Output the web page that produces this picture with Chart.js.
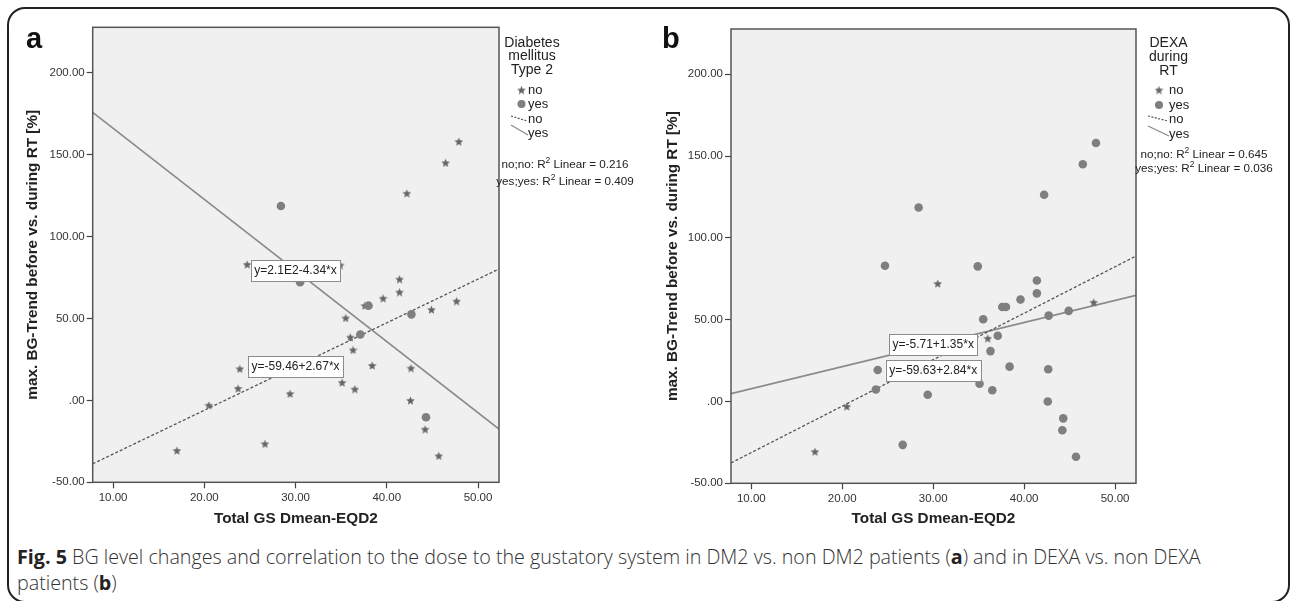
<!DOCTYPE html>
<html>
<head>
<meta charset="utf-8">
<script src="https://cdn.jsdelivr.net/npm/chart.js@4.4.1/dist/chart.umd.min.js"></script>
<style>
    html, body { margin: 0; padding: 0; background: #fff; }
    #page { position: relative; width: 1290px; height: 601px; overflow: hidden; font-family: Arial, "Liberation Sans", sans-serif; }
    #frame { position: absolute; left: 7px; top: 7px; width: 1283px; height: 596px; box-sizing: border-box; border: 2px solid #222; border-radius: 18px; }
    canvas { position: absolute; top: 0; }
    .tag { position: absolute; top: 24px; font: bold 29px Arial, "Liberation Sans", sans-serif; line-height: 29px; color: #111; }
    #caption { position: absolute; left: 17px; top: 544px; width: 1265px; font-family: "Open Sans", sans-serif; font-weight: 300; font-size: 19.7px; line-height: 26px; color: #333; white-space: nowrap; }
    #caption b { color: #222; font-weight: 700; }
</style>
</head>
<body>
<div id="page">
    <div id="frame"></div>
    <canvas id="chartA" width="640" height="540" style="left:0"></canvas>
    <canvas id="chartB" width="650" height="540" style="left:640px"></canvas>
    <div class="tag" style="left:26px">a</div>
    <div class="tag" style="left:662px">b</div>
    <div id="caption"><b>Fig. 5</b> BG level changes and correlation to the dose to the gustatory system in DM2 vs. non DM2 patients (<b>a</b>) and in DEXA vs. non DEXA<br>patients (<b>b</b>)</div>
</div>
<script>
// Patients: total GS Dmean-EQD2 vs. max. BG trend
const doseGS = [17.0, 20.5, 23.7, 23.9, 24.7, 26.65, 28.4, 29.4, 30.5, 34.9, 35.1, 35.5, 36.0, 36.3, 36.5, 37.1, 37.6,
                38.0, 38.4, 39.6, 41.4, 41.4, 42.2, 42.6, 42.65, 42.7, 44.2, 44.3, 44.9, 45.7, 46.45, 47.65, 47.9];
const bgTrend = [-30.6, -3.0, 7.3, 19.3, 83.0, -26.5, 118.6, 4.1, 72.1, 82.6, 10.9, 50.3, 38.6, 30.8, 6.9, 40.2, 57.8,
                 57.8, 21.3, 62.3, 74.0, 66.1, 126.4, 0.0, 19.7, 52.5, -17.6, -10.3, 55.4, -33.8, 145.0, 60.6, 158.0];
const dm2 = ['no', 'no', 'no', 'no', 'no', 'no', 'yes', 'no', 'yes', 'no', 'no', 'no', 'no', 'no', 'no', 'yes', 'no',
             'yes', 'no', 'no', 'no', 'no', 'no', 'no', 'no', 'yes', 'no', 'yes', 'no', 'no', 'no', 'no', 'no'];
const dexa = ['no', 'no', 'yes', 'yes', 'yes', 'yes', 'yes', 'yes', 'no', 'yes', 'yes', 'yes', 'no', 'yes', 'yes', 'yes', 'yes',
              'yes', 'yes', 'yes', 'yes', 'yes', 'yes', 'yes', 'yes', 'yes', 'yes', 'yes', 'yes', 'yes', 'yes', 'no', 'yes'];
const groups = ['no', 'yes'];

// Linear fits per group (no, yes)
const dm2Intercept = [-59.46, 209.5];
const dm2Slope = [2.67, -4.34];
const dm2Equation = ['y=-59.46+2.67*x', 'y=2.1E2-4.34*x'];
const dm2R2 = ['0.216', '0.409'];
const dexaIntercept = [-59.63, -5.71];
const dexaSlope = [2.84, 1.35];
const dexaEquation = ['y=-59.63+2.84*x', 'y=-5.71+1.35*x'];
const dexaR2 = ['0.645', '0.036'];

const xTicks = [10, 20, 30, 40, 50];
const yTicks = [-50, 0, 50, 100, 150, 200];
const xRange = [7.77, 52.3];
const yRange = [-50, 227.7];

// Five-pointed star marker, like SPSS uses
function makeStar(size, color) {
    const c = document.createElement('canvas');
    c.width = c.height = size;
    const g = c.getContext('2d');
    g.fillStyle = color;
    g.beginPath();
    const R = size / 2, r = R * 0.45;
    for (let i = 0; i < 10; i++) {
        const a = -Math.PI / 2 + i * Math.PI / 5;
        const rad = i % 2 ? r : R;
        g.lineTo(R + rad * Math.cos(a), R + 0.5 + rad * Math.sin(a));
    }
    g.closePath();
    g.fill();
    return c;
}
const starImg = makeStar(9, '#666');
const DOT_COLOR = '#7f7f7f';
const SOLID_COLOR = '#8a8a8a';
const DASH_COLOR = '#555';

// Plot background and frame
const plotFrame = {
    id: 'plotFrame',
    beforeDatasetsDraw(chart) {
        const { ctx, chartArea: a } = chart;
        ctx.save();
        ctx.fillStyle = '#f0f0f0';
        ctx.fillRect(a.left, a.top, a.right - a.left, a.bottom - a.top);
        ctx.restore();
    },
    afterDraw(chart) {
        const { ctx, chartArea: a } = chart;
        ctx.save();
        ctx.strokeStyle = '#555';
        ctx.lineWidth = 1.5;
        ctx.strokeRect(a.left, a.top, a.right - a.left, a.bottom - a.top);
        ctx.restore();
    }
};

// White equation boxes placed on each fit line at x = 30
const equationBoxes = {
    id: 'equationBoxes',
    afterDatasetsDraw(chart, args, o) {
        const { ctx, scales: { x, y } } = chart;
        ctx.save();
        ctx.font = '12px Arial';
        ctx.textAlign = 'center';
        ctx.textBaseline = 'middle';
        o.items.forEach(it => {
            const px = x.getPixelForValue(o.at);
            const py = y.getPixelForValue(it.a + it.b * o.at) + (it.dy || 0);
            const w = ctx.measureText(it.text).width + 7;
            const h = 21;
            ctx.fillStyle = '#fff';
            ctx.fillRect(px - w / 2, py - h / 2, w, h);
            ctx.strokeStyle = '#8c8c8c';
            ctx.lineWidth = 1;
            ctx.strokeRect(Math.round(px - w / 2) + 0.5, Math.round(py - h / 2) + 0.5, Math.round(w), h);
            ctx.fillStyle = '#222';
            ctx.fillText(it.text, px, py + 0.5);
        });
        ctx.restore();
    }
};

// Legend at the right of each plot: group title, markers, fit lines, R2
const groupLegend = {
    id: 'groupLegend',
    afterDraw(chart, args, o) {
        const ctx = chart.ctx;
        ctx.save();
        ctx.fillStyle = '#222';
        ctx.textBaseline = 'middle';
        ctx.font = '14px Arial';
        ctx.textAlign = 'center';
        o.title.forEach((t, i) => ctx.fillText(t, o.cx, o.titleY[i]));

        ctx.textAlign = 'left';
        ctx.font = '13px Arial';
        ctx.drawImage(starImg, o.symX - 4.5, o.rowY[0] - 4.5);
        ctx.fillText(groups[0], o.textX, o.rowY[0]);
        ctx.fillStyle = DOT_COLOR;
        ctx.beginPath();
        ctx.arc(o.symX, o.rowY[1], 4, 0, Math.PI * 2);
        ctx.fill();
        ctx.fillStyle = '#222';
        ctx.fillText(groups[1], o.textX, o.rowY[1]);

        ctx.strokeStyle = DASH_COLOR;
        ctx.lineWidth = 1.2;
        ctx.setLineDash([2, 1.5]);
        ctx.beginPath();
        ctx.moveTo(o.lineX0, o.rowY[2] - 3);
        ctx.lineTo(o.textX - 1, o.rowY[2] + 2);
        ctx.stroke();
        ctx.setLineDash([]);
        ctx.fillText(groups[0], o.textX, o.rowY[2]);
        ctx.strokeStyle = SOLID_COLOR;
        ctx.lineWidth = 1.3;
        ctx.beginPath();
        ctx.moveTo(o.lineX0, o.rowY[3] - 8);
        ctx.lineTo(o.textX, o.rowY[3] + 2);
        ctx.stroke();
        ctx.fillText(groups[1], o.textX, o.rowY[3]);

        // R2 lines with a raised 2
        o.r2.forEach((val, i) => {
            const pre = groups[i] + ';' + groups[i] + ': R';
            const post = ' Linear = ' + val;
            ctx.font = '11.7px Arial';
            const w1 = ctx.measureText(pre).width, w3 = ctx.measureText(post).width;
            ctx.font = '8.5px Arial';
            const w2 = ctx.measureText('2').width;
            let xs = o.r2X - (w1 + w2 + w3) / 2;
            const yy = o.r2Y[i];
            ctx.font = '11.7px Arial';
            ctx.fillText(pre, xs, yy);
            ctx.font = '8.5px Arial';
            ctx.fillText('2', xs + w1, yy - 4);
            ctx.font = '11.7px Arial';
            ctx.fillText(post, xs + w1 + w2, yy);
        });
        ctx.restore();
    }
};

function fitLine(a, b) {
    return [{ x: xRange[0], y: a + b * xRange[0] }, { x: xRange[1], y: a + b * xRange[1] }];
}

function buildPanel(id, grouping, intercept, slope, equation, r2, boxShift, legend, layout) {
    const pts = g => doseGS.map((x, i) => ({ x: x, y: bgTrend[i] })).filter((p, i) => grouping[i] === g);
    const config = {
        type: 'scatter',
        data: {
            datasets: [
                { label: groups[1], data: pts(groups[1]), pointStyle: 'circle', pointRadius: 4.3,
                  backgroundColor: DOT_COLOR, borderWidth: 0, order: 1 },
                { label: groups[0], data: pts(groups[0]), pointStyle: starImg, pointRadius: 4.5, order: 2 },
                { label: groups[0] + ' fit', data: fitLine(intercept[0], slope[0]), showLine: true, pointRadius: 0,
                  borderColor: DASH_COLOR, borderWidth: 1.3, borderDash: [3, 2], order: 3 },
                { label: groups[1] + ' fit', data: fitLine(intercept[1], slope[1]), showLine: true, pointRadius: 0,
                  borderColor: SOLID_COLOR, borderWidth: 1.6, order: 4 }
            ]
        },
        options: {
            responsive: false,
            animation: false,
            devicePixelRatio: 1,
            layout: { padding: layout.padding },
            plugins: {
                legend: { display: false },
                tooltip: { enabled: false },
                equationBoxes: {
                    at: 30,
                    items: [0, 1].map(i => ({ a: intercept[i], b: slope[i], text: equation[i], dy: boxShift[i] }))
                },
                groupLegend: Object.assign({ r2: r2 }, legend)
            },
            scales: {
                x: {
                    type: 'linear', min: xRange[0], max: xRange[1],
                    afterBuildTicks: s => { s.ticks = xTicks.map(v => ({ value: v })); },
                    afterFit: s => { s.height = layout.xHeight; },
                    grid: { drawOnChartArea: false, drawTicks: true, tickLength: 6, tickColor: '#444', tickWidth: 1.2 },
                    border: { display: false },
                    ticks: { padding: 3, color: '#333', font: { family: 'Arial', size: 11.5 }, callback: v => v.toFixed(2) },
                    title: { display: true, text: 'Total GS Dmean-EQD2', color: '#222', padding: 0,
                             font: { family: 'Arial', size: 15.3, weight: 'bold' } }
                },
                y: {
                    type: 'linear', min: yRange[0], max: yRange[1],
                    afterBuildTicks: s => { s.ticks = yTicks.map(v => ({ value: v })); },
                    afterFit: s => { s.width = layout.yWidth; },
                    grid: { drawOnChartArea: false, drawTicks: true, tickLength: 6, tickColor: '#444', tickWidth: 1.2 },
                    border: { display: false },
                    ticks: { padding: 2, color: '#333', font: { family: 'Arial', size: 11.5 },
                             callback: v => (v === 0 ? '.00' : v.toFixed(2)) },
                    title: { display: true, text: 'max. BG-Trend before vs. during RT [%]', color: '#222', padding: 0,
                             font: { family: 'Arial', size: 15.3, weight: 'bold' } }
                }
            }
        },
        plugins: [plotFrame, equationBoxes, groupLegend]
    };
    return new Chart(document.getElementById(id).getContext('2d'), config);
}

buildPanel('chartA', dm2, dm2Intercept, dm2Slope, dm2Equation, dm2R2, [0, 0],
    { title: ['Diabetes', 'mellitus', 'Type 2'], cx: 532, titleY: [43, 56, 70], symX: 521.5, textX: 528,
      lineX0: 511, rowY: [90, 104, 119, 133], r2X: 565, r2Y: [165, 182] },
    { padding: { left: 23.8, right: 141, top: 27.3, bottom: 12 }, yWidth: 68.9, xHeight: 45.7 });

buildPanel('chartB', dexa, dexaIntercept, dexaSlope, dexaEquation, dexaR2, [11, 0],
    { title: ['DEXA', 'during', 'RT'], cx: 528.5, titleY: [43, 57, 71], symX: 519, textX: 529,
      lineX0: 508, rowY: [90, 105, 119, 134], r2X: 564, r2Y: [155, 169] },
    { padding: { left: 23.8, right: 154, top: 29, bottom: 12 }, yWidth: 67.2, xHeight: 44.7 });
</script>
</body>
</html>
